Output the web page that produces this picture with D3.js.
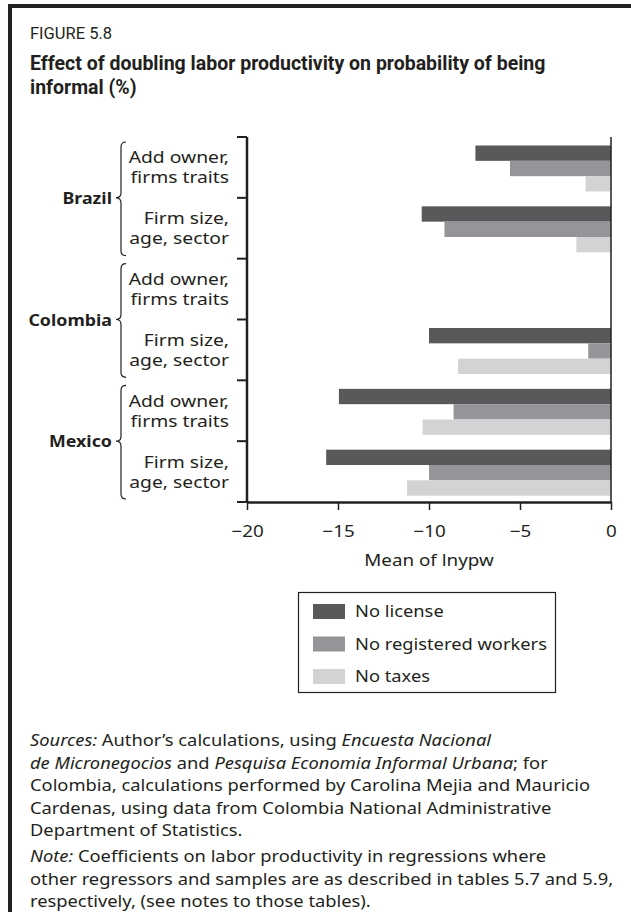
<!DOCTYPE html>
<html>
<head>
<meta charset="utf-8">
<script src="https://cdn.jsdelivr.net/npm/d3@7"></script>
<style>
  html, body { margin: 0; padding: 0; background: #fff; }
  svg { display: block; }
  text { fill: #231f20; }
</style>
</head>
<body>
<script>
// ---- data ----
const countries = ["Brazil", "Colombia", "Mexico"];
const specLines = [["Add owner,", "firms traits"], ["Firm size,", "age, sector"]];
const rowKeys = ["Brazil-add", "Brazil-firm", "Colombia-add", "Colombia-firm", "Mexico-add", "Mexico-firm"];
const seriesNames = ["No license", "No registered workers", "No taxes"];
const noLicense    = [-7.45, -10.4, null, -10.0, -14.95, -15.65];
const noRegistered = [-5.55, -9.15, null, -1.25, -8.65, -10.0];
const noTaxes      = [-1.4,  -1.9,  null, -8.4,  -10.35, -11.2];
const xTicks = [-20, -15, -10, -5, 0];
const seriesColors = ["#58595b", "#939598", "#d1d3d4"];

const W = 631, H = 912;
const ink = "#231f20";
const bodyFont = "'Noto Sans', sans-serif";
const titleFont = "'Liberation Sans Narrow', 'Roboto', sans-serif";
const baseSize = 16.5;

const svg = d3.select("body").append("svg").attr("width", W).attr("height", H);

// text drawn with a horizontal stretch (the reference face is wide)
function wideText(parent, x, y, sx, anchor, size) {
  const gg = parent.append("g").attr("transform", `translate(${x},${y}) scale(${sx},1)`);
  return gg.append("text").attr("x", 0).attr("y", 0)
    .attr("text-anchor", anchor || "start")
    .attr("font-family", bodyFont).attr("font-size", size || baseSize);
}

// frame
svg.append("rect").attr("x", 8).attr("y", 4).attr("width", W - 8).attr("height", 4).attr("fill", ink);
svg.append("rect").attr("x", 8).attr("y", 4).attr("width", 4).attr("height", H - 4).attr("fill", ink);

// headings
svg.append("text").attr("x", 30).attr("y", 39).attr("font-family", titleFont).attr("font-size", 16.5)
  .text("FIGURE 5.8");
const title = svg.append("text").attr("font-family", titleFont).attr("font-size", 19.5).attr("font-weight", "bold");
title.append("tspan").attr("x", 30).attr("y", 70).text("Effect of doubling labor productivity on probability of being");
title.append("tspan").attr("x", 30).attr("y", 94).text("informal (%)");

// scales
const x = d3.scaleLinear().domain([-20, 0]).range([247, 611]);
const y0 = d3.scaleBand().domain(rowKeys).range([137, 502]).padding(0);
const y1 = d3.scaleBand().domain(seriesNames).range([8.5, 54.5]).padding(0);

const rows = rowKeys.map((k, i) => ({ key: k, values: [noLicense[i], noRegistered[i], noTaxes[i]] }));

// bars
const g = svg.append("g");
rows.forEach(r => {
  r.values.forEach((v, j) => {
    if (v === null) return;
    g.append("rect")
      .attr("x", x(v))
      .attr("y", y0(r.key) + y1(seriesNames[j]))
      .attr("width", x(0) - x(v))
      .attr("height", y1.bandwidth())
      .attr("fill", seriesColors[j]);
  });
});

// zero line
svg.append("line").attr("x1", x(0)).attr("x2", x(0)).attr("y1", 137).attr("y2", 502)
  .attr("stroke", ink).attr("stroke-width", 1.5);

// x axis
const xAxis = svg.append("g").attr("transform", "translate(0,502)")
  .call(d3.axisBottom(x).tickValues(xTicks).tickSize(8).tickSizeOuter(0)
    .tickFormat(d => d < 0 ? "\u2212" + Math.abs(d) : String(d)));
xAxis.select(".domain").attr("stroke", ink).attr("stroke-width", 2.5);
xAxis.selectAll(".tick line").attr("stroke", ink).attr("stroke-width", 1.5);
xAxis.selectAll(".tick text").attr("font-family", bodyFont).attr("font-size", baseSize).attr("fill", ink)
  .attr("y", 35).attr("dy", 0).attr("transform", "scale(1.14,1)");

wideText(svg, (x(-20) + x(0)) / 2, 566, 1.14, "middle").text("Mean of lnypw");

// y axis with boundary ticks
const yEdges = rowKeys.map(k => y0(k)).concat([y0.range()[1]]);
svg.append("line").attr("x1", 247).attr("x2", 247).attr("y1", 137).attr("y2", 502)
  .attr("stroke", ink).attr("stroke-width", 2.5);
yEdges.forEach(e => {
  svg.append("line").attr("x1", 237).attr("x2", 247).attr("y1", e).attr("y2", e)
    .attr("stroke", ink).attr("stroke-width", 2);
});

// row labels
rowKeys.forEach((k, i) => {
  const lines = specLines[i % 2];
  const cy = y0(k) + y0.bandwidth() / 2;
  wideText(svg, 229, cy - 4, 1.17, "end").text(lines[0]);
  wideText(svg, 229, cy + 16, 1.17, "end").text(lines[1]);
});

// braces + country labels
countries.forEach((c, i) => {
  const top = y0(rowKeys[i * 2]) + 5;
  const bot = y0(rowKeys[i * 2 + 1]) + y0.bandwidth() - 3;
  const mid = y0(rowKeys[i * 2 + 1]);
  const bx = 121, r = 5;
  const p = d3.path();
  p.moveTo(bx + 5, top);
  p.quadraticCurveTo(bx, top, bx, top + r);
  p.lineTo(bx, mid - r);
  p.quadraticCurveTo(bx, mid, bx - 5, mid);
  p.quadraticCurveTo(bx, mid, bx, mid + r);
  p.lineTo(bx, bot - r);
  p.quadraticCurveTo(bx, bot, bx + 5, bot);
  svg.append("path").attr("d", p.toString()).attr("fill", "none").attr("stroke", ink).attr("stroke-width", 1.2);
  wideText(svg, 112, mid + 6, 1.08, "end", 16.5).attr("font-weight", "bold").text(c);
});

// legend
const lg = svg.append("g");
lg.append("rect").attr("x", 298.5).attr("y", 592.5).attr("width", 257).attr("height", 100)
  .attr("fill", "none").attr("stroke", ink).attr("stroke-width", 1.2);
seriesNames.forEach((s, j) => {
  const cy = 611 + j * 32.5;
  lg.append("rect").attr("x", 313).attr("y", cy - 7).attr("width", 32).attr("height", 15).attr("fill", seriesColors[j]);
  wideText(lg, 355, cy + 6, 1.11, "start").text(s);
});

// notes
const notes = [
  [["Sources:", true], [" Author\u2019s calculations, using ", false], ["Encuesta Nacional", true]],
  [["de Micronegocios", true], [" and ", false], ["Pesquisa Economia Informal Urbana", true], ["; for", false]],
  [["Colombia, calculations performed by Carolina Mejia and Mauricio", false]],
  [["Cardenas, using data from Colombia National Administrative", false]],
  [["Department of Statistics.", false]],
  [["Note:", true], [" Coefficients on labor productivity in regressions where", false]],
  [["other regressors and samples are as described in tables 5.7 and 5.9,", false]],
  [["respectively, (see notes to those tables).", false]]
];
const noteY = [746, 768.5, 791, 813.5, 836, 862, 884.5, 907];
notes.forEach((line, i) => {
  const t = wideText(svg, 30, noteY[i], 1.11, "start");
  line.forEach(([s, it]) => t.append("tspan").attr("font-style", it ? "italic" : "normal").text(s));
});
</script>
</body>
</html>
